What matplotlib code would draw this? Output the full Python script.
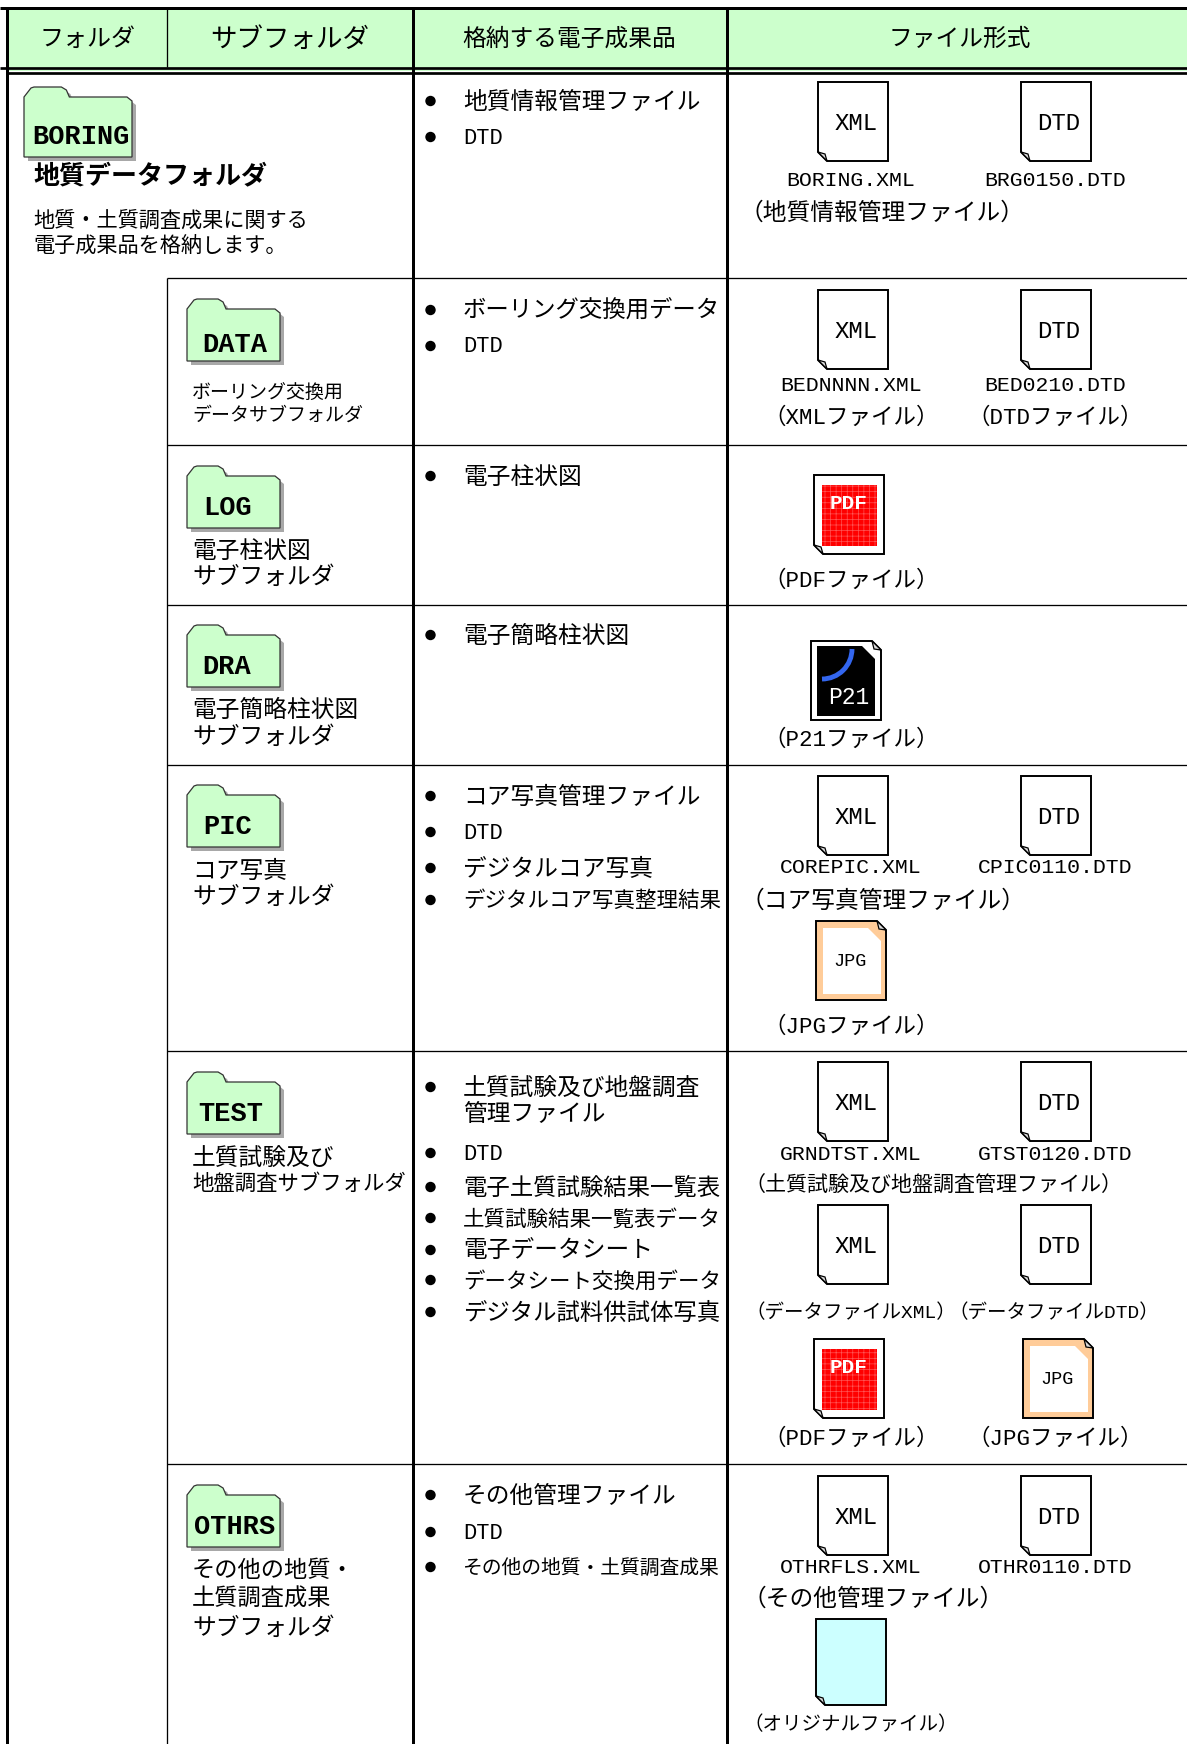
import matplotlib
matplotlib.use('Agg')
import matplotlib.pyplot as plt
from matplotlib.patches import Polygon, Rectangle, Circle, Arc

plt.rcParams['font.family'] = ['Liberation Mono', 'Noto Sans CJK JP', 'DejaVu Sans']
plt.rcParams['hatch.linewidth'] = 0.5

# header
header_labels = ['フォルダ', 'サブフォルダ', '格納する電子成果品', 'ファイル形式']
header_x = [88, 290, 569, 960]
header_size = [24, 26.5, 23.7, 23.7]

# table lines
row_lines = [278, 445, 605, 765, 1051, 1464]

# folders
folder_names = ['BORING', 'DATA', 'LOG', 'DRA', 'PIC', 'TEST', 'OTHRS']
folder_x = [24, 187, 187, 187, 187, 187, 187]
folder_y = [87, 299, 466, 625, 785, 1072, 1485]
folder_w = [108, 93, 93, 93, 93, 93, 93]
folder_h = [70, 62, 62, 62, 62, 62, 62]
folder_text_x = [81, 235, 228, 227, 228, 231, 235]
folder_text_y = [137, 345, 508, 667, 827, 1114, 1527]

# text of the left column: label, x, y, size in px
left_labels = ['地質・土質調査成果に関する', '電子成果品を格納します。',
               'ボーリング交換用', 'データサブフォルダ',
               '電子柱状図', 'サブフォルダ',
               '電子簡略柱状図', 'サブフォルダ',
               'コア写真', 'サブフォルダ',
               '土質試験及び', '地盤調査サブフォルダ',
               'その他の地質・', '土質調査成果', 'サブフォルダ']
left_x = [33, 33] + [192] * 13
left_y = [219, 244, 391, 414, 549, 575, 708, 735, 869, 895, 1156, 1182, 1568, 1597, 1626]
left_size = [21.2, 21.2, 19, 19, 23.7, 23.7, 23.7, 23.7, 23.7, 23.7, 23.7, 21.4, 23.2, 23.2, 23.7]

# bullet items
bullet_labels = ['地質情報管理ファイル', 'DTD',
                 'ボーリング交換用データ', 'DTD',
                 '電子柱状図',
                 '電子簡略柱状図',
                 'コア写真管理ファイル', 'DTD', 'デジタルコア写真', 'デジタルコア写真整理結果',
                 '土質試験及び地盤調査', 'DTD', '電子土質試験結果一覧表', '土質試験結果一覧表データ',
                 '電子データシート', 'データシート交換用データ', 'デジタル試料供試体写真',
                 'その他管理ファイル', 'DTD', 'その他の地質・土質調査成果']
bullet_y = [100, 136, 309, 345, 475, 634, 795, 831, 867, 899,
            1086, 1152, 1186, 1217, 1249, 1279, 1311, 1494, 1531, 1566]
bullet_size = [23.7, 22, 23.4, 22, 23.7, 23.7, 23.7, 22, 23.7, 21.5,
               23.7, 22, 23.4, 21.5, 23.7, 21.5, 23.4, 23.7, 22, 19.8]

# file icons
doc_kinds = ['XML', 'DTD', 'XML', 'DTD', 'PDF', 'P21', 'XML', 'DTD', 'JPG',
             'XML', 'DTD', 'XML', 'DTD', 'PDF', 'JPG2', 'XML', 'DTD', 'ORG']
doc_x = [818, 1021, 818, 1021, 814, 811, 818, 1021, 816,
         818, 1021, 818, 1021, 814, 1023, 818, 1021, 816]
doc_y = [82, 82, 290, 290, 475, 641, 776, 776, 921,
         1062, 1062, 1205, 1205, 1339, 1339, 1476, 1476, 1619]

# file captions
caption_labels = ['BORING.XML', 'BRG0150.DTD', '（地質情報管理ファイル）',
                  'BEDNNNN.XML', 'BED0210.DTD', '（XMLファイル）', '（DTDファイル）',
                  '（PDFファイル）', '（P21ファイル）',
                  'COREPIC.XML', 'CPIC0110.DTD', '（コア写真管理ファイル）', '（JPGファイル）',
                  'GRNDTST.XML', 'GTST0120.DTD', '（土質試験及び地盤調査管理ファイル）',
                  '（データファイルXML）', '（データファイルDTD）', '（PDFファイル）', '（JPGファイル）',
                  'OTHRFLS.XML', 'OTHR0110.DTD', '（その他管理ファイル）', '（オリジナルファイル）']
caption_x = [851, 1055, 882, 851, 1055, 851, 1055, 851, 851, 851, 1055, 883, 851,
             851, 1055, 933, 851, 1054, 851, 1055, 851, 1055, 873, 851]
caption_y = [178, 178, 211, 383, 383, 416, 416, 579, 738, 865, 865, 899, 1025,
             1152, 1152, 1184, 1311, 1311, 1437, 1437, 1565, 1565, 1597, 1723]
caption_size = [21.5, 21.5, 23.7, 21.5, 21.5, 22.5, 22.5, 22.5, 22.5, 21.5, 21.5, 23.7, 22.5,
                21.5, 21.5, 21, 19.5, 19.5, 22.5, 22.5, 21.5, 21.5, 23.7, 19.5]

GREEN = '#CCFFCC'

fig = plt.figure(figsize=(11.87, 17.44), dpi=100)
ax = fig.add_axes([0, 0, 1, 1])
ax.set_xlim(0, 1187)
ax.set_ylim(1744, 0)
ax.axis('off')


def t(x, y, s, px, ha='left', **kw):
    kw.setdefault('color', 'black')
    # text sits about 2px low compared to plain centering
    return ax.text(x, y + 2, s, fontsize=px * 0.72, ha=ha, va='center', **kw)


def line(x0, y0, x1, y1, px=3.0, c='black'):
    ax.plot([x0, x1], [y0, y1], color=c, lw=px * 0.72, solid_capstyle='butt', zorder=3)


def folder(x, y, w, h, name, tx, ty):
    tab = 0.42 * w
    pts = [(x, y + h), (x, y + 10), (x + 7, y + 1), (x + 10, y), (x + tab - 8, y), (x + tab - 3, y + 3),
           (x + tab, y + 10), (x + w - 5, y + 10), (x + w, y + 14), (x + w, y + h)]
    ax.add_patch(Polygon([(a + 4, b + 4) for a, b in pts], closed=True, fc='#A8A8A8', ec='none', zorder=4))
    ax.add_patch(Polygon(pts, closed=True, fc=GREEN, ec='#333333', lw=0.9, zorder=5))
    t(tx, ty - 2, name, 27, ha='center', fontweight='bold', zorder=6)


def doc(kind, x, y):
    w, h = 70, 79
    if kind == 'ORG':
        h = 86
    fold_right = kind in ('P21', 'JPG', 'JPG2')
    if fold_right:
        outline = [(x, y), (x + w - 9, y), (x + w, y + 9), (x + w, y + h), (x, y + h)]
        flap = [(x + w - 9, y), (x + w, y + 9), (x + w - 7, y + 8)]
    else:
        outline = [(x, y), (x + w, y), (x + w, y + h), (x + 9, y + h), (x, y + h - 9)]
        flap = [(x, y + h - 9), (x + 9, y + h), (x + 7, y + h - 7)]
    face = {'ORG': '#CCFFFF', 'JPG': '#FFCC99', 'JPG2': '#FFCC99'}.get(kind, 'white')
    ax.add_patch(Polygon(outline, closed=True, fc=face, ec='black', lw=1.4, joinstyle='miter', zorder=4))
    ax.add_patch(Polygon(flap, closed=True, fc='#DDDDDD', ec='black', lw=0.9, zorder=6))
    if kind == 'XML':
        t(x + 38, y + 39, 'XML', 24, ha='center', zorder=6)
    elif kind == 'DTD':
        t(x + 38, y + 39, 'DTD', 24, ha='center', zorder=6)
    elif kind == 'PDF':
        ax.add_patch(Rectangle((x + 8, y + 10), 55, 61, fc='#FF0000', ec='#FF5555', hatch='+++', lw=0, zorder=5))
        t(x + 35, y + 26, 'PDF', 21, ha='center', color='white', fontweight='bold', zorder=6)
    elif kind == 'P21':
        inner = [(x + 6, y + 5), (x + 51, y + 5), (x + 64, y + 18), (x + 64, y + 75), (x + 6, y + 75)]
        ax.add_patch(Polygon(inner, closed=True, fc='black', ec='none', zorder=5))
        ax.add_patch(Arc((x + 11, y + 8), 60, 60, theta1=0, theta2=90, color='#3366EE', lw=3.5, zorder=6))
        t(x + 38, y + 54, 'P21', 23, ha='center', color='white', zorder=6)
    elif kind in ('JPG', 'JPG2'):
        inner = [(x + 7, y + 7), (x + 52, y + 7), (x + 65, y + 20), (x + 65, y + 73), (x + 7, y + 73)]
        ax.add_patch(Polygon(inner, closed=True, fc='white', ec='none', zorder=5))
        t(x + 34, y + 38, 'JPG', 18.5, ha='center', zorder=6)


# header band
ax.add_patch(Rectangle((8, 8), 1179, 63, fc=GREEN, ec='none', zorder=1))
for lab, x, s in zip(header_labels, header_x, header_size):
    t(x, 37.5, lab, s, ha='center', zorder=6)

# grid
line(0, 8, 1187, 8, 3)
line(0, 68.3, 1187, 68.3, 2.7)
line(7, 72.8, 1187, 72.8, 2.7)
line(7, 7, 7, 1744, 3)
line(413, 8, 413, 1744, 3)
line(727, 8, 727, 1744, 3)
line(167, 8, 167, 67, 1.3)
line(167, 278, 167, 1744, 1.3)
for y in row_lines:
    line(167, y, 1187, y, 1.3)

for i in range(len(folder_names)):
    folder(folder_x[i], folder_y[i], folder_w[i], folder_h[i], folder_names[i], folder_text_x[i], folder_text_y[i])

t(33, 174, '地質データフォルダ', 26, fontweight='bold', zorder=6)
for lab, x, y, s in zip(left_labels, left_x, left_y, left_size):
    t(x, y, lab, s, zorder=6)

for lab, y, s in zip(bullet_labels, bullet_y, bullet_size):
    ax.add_patch(Circle((430.5, y + 1), 5.2, fc='black', ec='none', zorder=6))
    t(463, y, lab, s, zorder=6)
t(463, 1112, '管理ファイル', 23.7, zorder=6)

for k, x, y in zip(doc_kinds, doc_x, doc_y):
    doc(k, x, y)

for lab, x, y, s in zip(caption_labels, caption_x, caption_y, caption_size):
    t(x, y, lab, s, ha='center', zorder=6)

fig.savefig('out.png', dpi=100)
